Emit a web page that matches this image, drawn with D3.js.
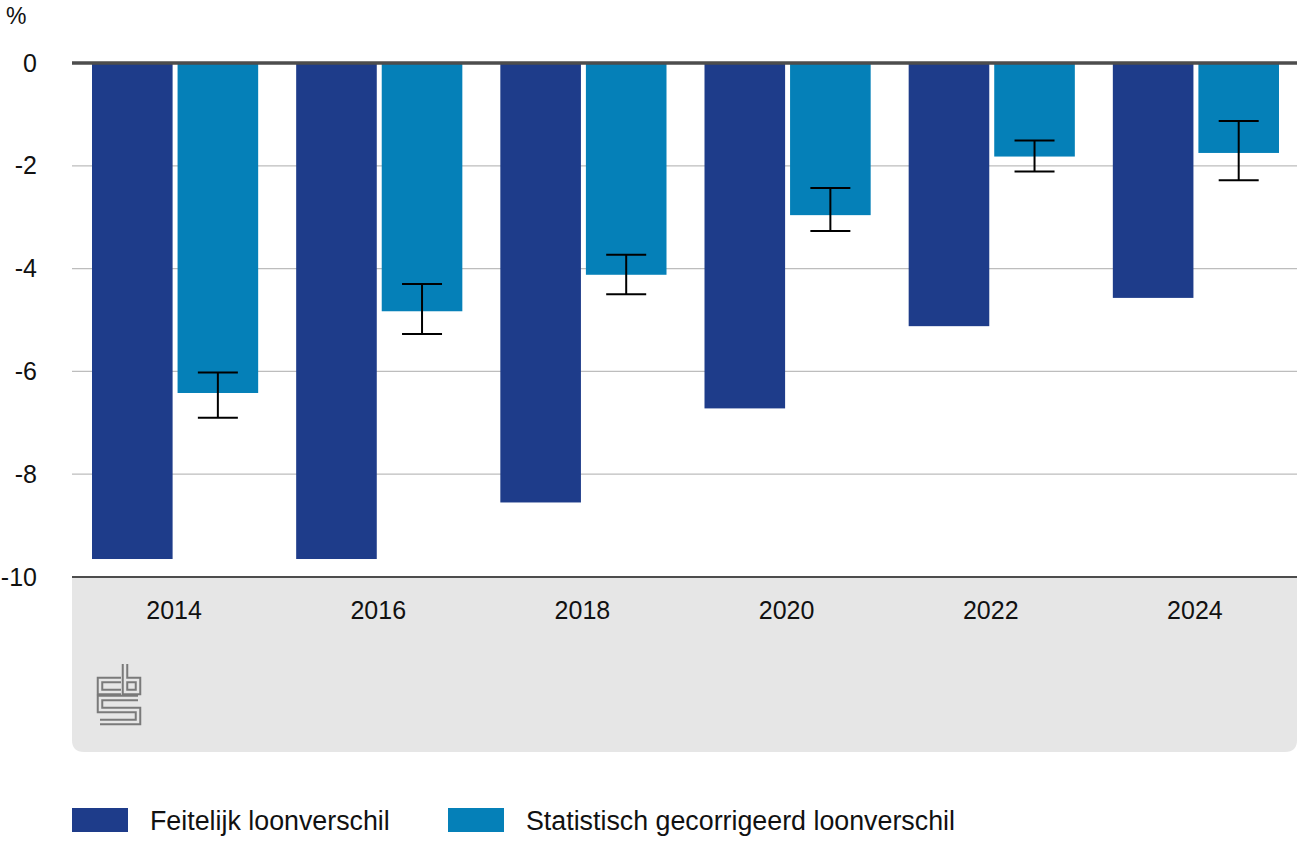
<!DOCTYPE html>
<html>
<head>
<meta charset="utf-8">
<script src="https://cdn.jsdelivr.net/npm/d3@7"></script>
<style>
  body { margin: 0; background: #fff; }
  text { font-family: "Liberation Sans", Arial, sans-serif; fill: #111; }
</style>
</head>
<body>
<div id="chart"></div>
<script>
// data (percent)
var years = ["2014", "2016", "2018", "2020", "2022", "2024"];
var seriesNames = ["Feitelijk loonverschil", "Statistisch gecorrigeerd loonverschil"];
var feitelijk = [-9.65, -9.65, -8.55, -6.72, -5.12, -4.57];
var gecorrigeerd = [-6.42, -4.83, -4.12, -2.96, -1.82, -1.75];
var errLow = [-6.9, -5.27, -4.5, -3.27, -2.11, -2.28];
var errHigh = [-6.02, -4.3, -3.73, -2.43, -1.51, -1.13];
var yTicks = [0, -2, -4, -6, -8, -10];

var colors = ["#1e3c8a", "#0580b8"];

var W = 1299, H = 847;
var plotLeft = 72, plotRight = 1297, plotTop = 63, plotBottom = 577;

var svg = d3.select("#chart").append("svg")
  .attr("width", W)
  .attr("height", H);

/* scales */
var x0 = d3.scaleBand()
  .domain(years)
  .range([plotLeft, plotRight])
  .padding(0);

var x1 = d3.scaleBand()
  .domain(seriesNames)
  .range([20, x0.bandwidth() - 18])
  .paddingInner(0.058);

var y = d3.scaleLinear()
  .domain([-10, 0])
  .range([plotBottom, plotTop]);

// grey panel below the axis (rounded bottom corners)
var r = 12, panelBottom = 752;
svg.append("path")
  .attr("d", "M" + plotLeft + "," + plotBottom + "H" + plotRight + "V" + (panelBottom - r) +
    "Q" + plotRight + "," + panelBottom + " " + (plotRight - r) + "," + panelBottom +
    "H" + (plotLeft + r) + "Q" + plotLeft + "," + panelBottom + " " + plotLeft + "," + (panelBottom - r) + "Z")
  .attr("fill", "#e6e6e6");

// gridlines
svg.append("g").selectAll("line")
  .data(yTicks.filter(function(d){ return d !== 0 && d !== -10; }))
  .enter().append("line")
    .attr("x1", plotLeft).attr("x2", plotRight)
    .attr("y1", function(d){ return y(d); })
    .attr("y2", function(d){ return y(d); })
    .attr("stroke", "#bdbdbd")
    .attr("stroke-width", 1.3);

// y axis labels
var yAxis = d3.axisLeft(y)
  .tickValues(yTicks)
  .tickSize(0)
  .tickPadding(0)
  .tickFormat(function(d){ return String(d); });

var yAxisGroup = svg.append("g")
  .attr("transform", "translate(37,0)")
  .call(yAxis);
yAxisGroup.select(".domain").remove();
yAxisGroup.selectAll("text")
  .attr("font-size", "25px")
  .attr("fill", "#111")
  .attr("font-family", "Liberation Sans, Arial, sans-serif");

svg.append("text")
  .attr("x", 6).attr("y", 24)
  .attr("font-size", "23px")
  .text("%");

// bars
var rows = years.map(function(yr, i){
  return { year: yr, values: [feitelijk[i], gecorrigeerd[i]] };
});

var groups = svg.append("g").selectAll("g")
  .data(rows)
  .enter().append("g")
    .attr("transform", function(d){ return "translate(" + x0(d.year) + ",0)"; });

groups.selectAll("rect")
  .data(function(d){ return d.values.map(function(v, k){ return { name: seriesNames[k], value: v, k: k }; }); })
  .enter().append("rect")
    .attr("x", function(d){ return x1(d.name); })
    .attr("y", y(0))
    .attr("width", x1.bandwidth())
    .attr("height", function(d){ return y(d.value) - y(0); })
    .attr("fill", function(d){ return colors[d.k]; });

// error bars on corrected series
var errG = svg.append("g");
years.forEach(function(yr, i){
  var cx = x0(yr) + x1(seriesNames[1]) + x1.bandwidth() / 2;
  var g = errG.append("g").attr("stroke", "#000").attr("stroke-width", 2);
  g.append("line").attr("x1", cx).attr("x2", cx).attr("y1", y(errHigh[i])).attr("y2", y(errLow[i]));
  g.append("line").attr("x1", cx - 20).attr("x2", cx + 20).attr("y1", y(errHigh[i])).attr("y2", y(errHigh[i]));
  g.append("line").attr("x1", cx - 20).attr("x2", cx + 20).attr("y1", y(errLow[i])).attr("y2", y(errLow[i]));
});

// zero line and bottom axis line
svg.append("line")
  .attr("x1", plotLeft).attr("x2", plotRight)
  .attr("y1", y(0)).attr("y2", y(0))
  .attr("stroke", "#4d4d4d").attr("stroke-width", 3.5);
svg.append("line")
  .attr("x1", plotLeft).attr("x2", plotRight)
  .attr("y1", y(-10)).attr("y2", y(-10))
  .attr("stroke", "#4d4d4d").attr("stroke-width", 2);

// x axis labels
var xAxis = d3.axisBottom(x0).tickSize(0).tickPadding(0);
var xAxisGroup = svg.append("g")
  .attr("transform", "translate(0," + (plotBottom + 24) + ")")
  .call(xAxis);
xAxisGroup.select(".domain").remove();
xAxisGroup.selectAll("text")
  .attr("font-size", "25px")
  .attr("fill", "#111")
  .attr("font-family", "Liberation Sans, Arial, sans-serif");

// cbs logo (outlined strokes)
var logo = svg.append("g").attr("fill", "none").attr("stroke-linejoin", "miter");
var logoPaths = [
  "M121,680 H100 V692 H121",
  "M125,664 V692 H138 V680 H125",
  "M138,698 H100 V710 H138 V722 H100"
];
logoPaths.forEach(function(p){
  logo.append("path").attr("d", p).attr("stroke", "#7a7a7a").attr("stroke-width", 6.5);
});
logoPaths.forEach(function(p){
  logo.append("path").attr("d", p).attr("stroke", "#e6e6e6").attr("stroke-width", 2.5);
});

// legend
var legendX = [72, 448];
var legend = svg.append("g");
seriesNames.forEach(function(name, k){
  legend.append("rect")
    .attr("x", legendX[k]).attr("y", 808)
    .attr("width", 56).attr("height", 24)
    .attr("fill", colors[k]);
  legend.append("text")
    .attr("x", legendX[k] + 78).attr("y", 830)
    .attr("font-size", "26.8px")
    .text(name);
});
</script>
</body>
</html>
